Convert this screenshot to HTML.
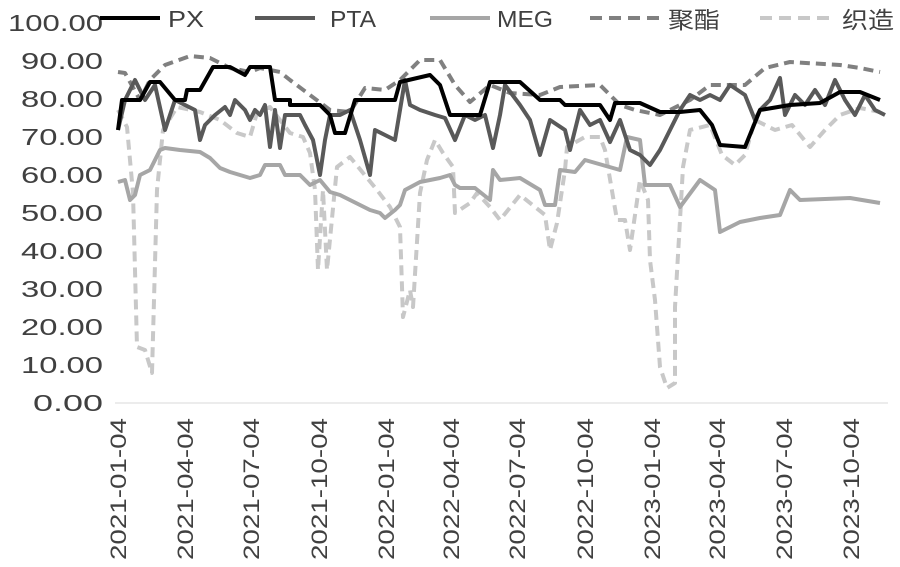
<!DOCTYPE html>
<html><head><meta charset="utf-8"><style>body{margin:0;background:#fff}svg{display:block}</style></head><body>
<svg width="900" height="567" viewBox="0 0 900 567" xmlns="http://www.w3.org/2000/svg" font-family="Liberation Sans, Noto Sans CJK SC, sans-serif">
<g fill="#404040" font-size="23" text-anchor="end">
<text x="103" y="31" textLength="95" lengthAdjust="spacingAndGlyphs">100.00</text><text x="103" y="69" textLength="82" lengthAdjust="spacingAndGlyphs">90.00</text><text x="103" y="107" textLength="82" lengthAdjust="spacingAndGlyphs">80.00</text><text x="103" y="145" textLength="82" lengthAdjust="spacingAndGlyphs">70.00</text><text x="103" y="183" textLength="82" lengthAdjust="spacingAndGlyphs">60.00</text><text x="103" y="221" textLength="82" lengthAdjust="spacingAndGlyphs">50.00</text><text x="103" y="259" textLength="82" lengthAdjust="spacingAndGlyphs">40.00</text><text x="103" y="297" textLength="82" lengthAdjust="spacingAndGlyphs">30.00</text><text x="103" y="335" textLength="82" lengthAdjust="spacingAndGlyphs">20.00</text><text x="103" y="373" textLength="82" lengthAdjust="spacingAndGlyphs">10.00</text><text x="103" y="411" textLength="70" lengthAdjust="spacingAndGlyphs">0.00</text>
</g>
<line x1="115" y1="403" x2="888" y2="403" stroke="#d9d9d9" stroke-width="1"/>
<g fill="#404040" font-size="22" text-anchor="end">
<text transform="translate(126,418) rotate(-90)" textLength="142" lengthAdjust="spacingAndGlyphs">2021-01-04</text>
<text transform="translate(193,418) rotate(-90)" textLength="142" lengthAdjust="spacingAndGlyphs">2021-04-04</text>
<text transform="translate(259,418) rotate(-90)" textLength="142" lengthAdjust="spacingAndGlyphs">2021-07-04</text>
<text transform="translate(327,418) rotate(-90)" textLength="142" lengthAdjust="spacingAndGlyphs">2021-10-04</text>
<text transform="translate(394,418) rotate(-90)" textLength="142" lengthAdjust="spacingAndGlyphs">2022-01-04</text>
<text transform="translate(459,418) rotate(-90)" textLength="142" lengthAdjust="spacingAndGlyphs">2022-04-04</text>
<text transform="translate(525,418) rotate(-90)" textLength="142" lengthAdjust="spacingAndGlyphs">2022-07-04</text>
<text transform="translate(593,418) rotate(-90)" textLength="142" lengthAdjust="spacingAndGlyphs">2022-10-04</text>
<text transform="translate(660,418) rotate(-90)" textLength="142" lengthAdjust="spacingAndGlyphs">2023-01-04</text>
<text transform="translate(725,418) rotate(-90)" textLength="142" lengthAdjust="spacingAndGlyphs">2023-04-04</text>
<text transform="translate(792,418) rotate(-90)" textLength="142" lengthAdjust="spacingAndGlyphs">2023-07-04</text>
<text transform="translate(859,418) rotate(-90)" textLength="142" lengthAdjust="spacingAndGlyphs">2023-10-04</text>
</g>
<g fill="none" stroke-width="4" stroke-linejoin="round">
<polyline stroke="#c8c8c8" stroke-dasharray="10,6" points="118,110 127,127 133,193 137,347 145,350 152,373 157,190 163,130 177,107 200,112 220,120 237,133 250,137 257,113 270,107 290,133 303,137 310,153 315,190 318,270 323,190 327,270 337,167 350,157 377,190 390,207 400,227 403,317 410,290 413,307 420,193 427,160 435,140 443,153 453,167 455,213 470,203 477,193 490,207 500,220 520,195 545,215 550,250 557,223 565,170 567,147 585,137 600,137 605,150 617,220 625,220 630,250 640,180 648,200 650,260 655,300 660,367 667,388 675,383 675,307 680,220 683,167 690,130 710,125 722,155 735,165 745,155 755,120 775,130 792,125 810,147 825,130 840,115 860,108 880,112"/>
<polyline stroke="#808080" stroke-dasharray="10,6" points="118,72 125,73 140,100 150,80 165,65 190,56 210,58 230,68 250,72 260,68 280,72 290,80 310,95 330,110 350,112 365,88 385,90 400,80 420,60 440,60 455,85 470,102 490,85 510,93 540,95 560,87 600,85 620,105 635,110 660,115 690,100 710,85 745,85 765,68 790,62 840,65 860,68 880,72"/>
<polyline stroke="#a6a6a6" points="118,182 125,180 130,200 135,195 140,175 150,170 160,150 165,148 180,150 200,152 210,158 220,168 230,172 250,178 260,175 265,165 280,165 285,175 300,175 310,185 320,180 330,192 340,195 350,200 360,205 370,210 380,213 385,218 395,210 400,205 405,190 420,182 440,178 450,175 455,185 460,188 475,188 490,200 493,170 500,180 520,178 540,190 545,205 555,205 560,170 575,172 585,160 620,170 627,137 640,140 645,185 670,185 680,207 700,180 715,190 720,232 740,222 760,218 780,215 790,190 800,200 850,198 880,203"/>
<polyline stroke="#595959" points="118,130 125,100 135,80 145,100 155,85 165,130 175,100 185,105 195,110 200,140 205,125 215,115 225,107 230,115 235,100 245,110 250,120 255,110 260,115 265,105 270,147 275,110 280,148 285,115 300,115 305,125 313,140 320,175 325,140 330,115 340,115 350,110 360,140 370,175 375,130 385,135 395,140 400,110 405,80 410,105 420,110 435,115 445,118 455,140 465,115 475,120 485,115 493,148 500,115 505,85 520,105 530,120 540,155 550,120 565,130 570,150 580,110 590,125 600,120 610,142 620,120 630,150 640,155 650,165 660,150 670,130 680,110 690,95 700,100 710,95 720,100 730,85 745,95 755,120 760,110 770,100 780,78 785,115 795,95 805,105 815,90 825,105 835,80 845,100 855,115 865,95 875,110 885,115"/>
<polyline stroke="#000" points="118,130 122,100 140,100 150,82 160,82 175,100 185,100 187,90 200,90 213,67 225,67 230,67 245,75 250,67 270,67 275,100 290,100 290,105 320,105 330,115 335,133 345,133 355,100 395,100 400,82 430,75 440,85 450,115 480,115 490,82 520,82 540,100 560,100 565,105 600,105 610,120 615,103 640,103 660,112 680,112 700,110 712,125 720,145 745,147 760,110 790,105 820,103 840,92 860,92 880,100"/>
</g>
<g stroke-width="4" fill="none">
<line x1="100" y1="18" x2="160" y2="18" stroke="#000"/>
<line x1="255" y1="18" x2="315" y2="18" stroke="#595959"/>
<line x1="430" y1="18" x2="490" y2="18" stroke="#a6a6a6"/>
<line x1="590" y1="18" x2="660" y2="18" stroke="#808080" stroke-dasharray="12,7"/>
<line x1="760" y1="18" x2="830" y2="18" stroke="#c8c8c8" stroke-dasharray="12,7"/>
</g>
<g fill="#404040" font-size="23">
<text x="168" y="27" textLength="36" lengthAdjust="spacingAndGlyphs">PX</text><text x="330" y="27" textLength="46" lengthAdjust="spacingAndGlyphs">PTA</text><text x="497" y="27" textLength="56" lengthAdjust="spacingAndGlyphs">MEG</text><text x="668" y="28" textLength="52" lengthAdjust="spacingAndGlyphs">聚酯</text><text x="842" y="28" textLength="52" lengthAdjust="spacingAndGlyphs">织造</text>
</g>
</svg>
</body></html>
